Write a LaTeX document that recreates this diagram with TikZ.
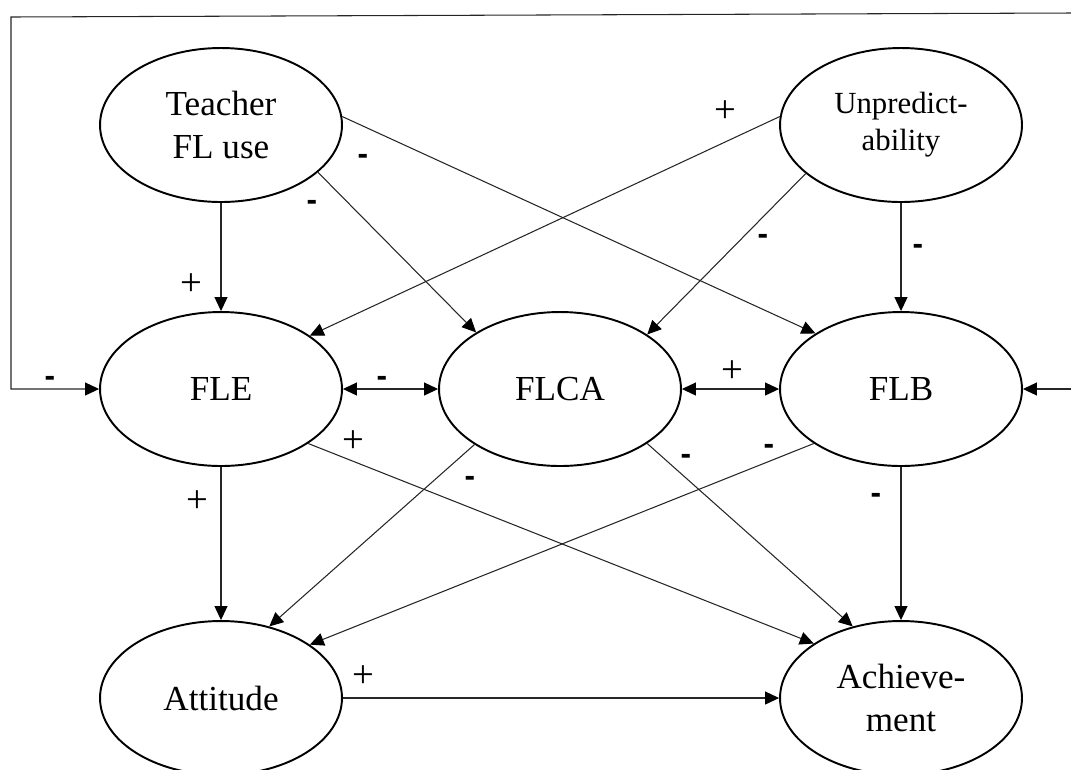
\documentclass[tikz,border=0pt]{standalone}
\usepackage{fontspec}
\setmainfont{Liberation Serif}
\newfontfamily\signfont{Liberation Sans}
\usetikzlibrary{shapes.geometric,arrows.meta}
\tikzset{
  ell/.style={ellipse, draw=black, line width=1.1pt, inner sep=0pt,
    minimum width=4.84cm, minimum height=3.08cm, align=center,
    font=\fontsize{20}{24}\selectfont},
  tip/.tip={Triangle[length=0.28cm,width=0.26cm,color=black]},
  conn/.style={draw=black!85, line width=0.6pt, -tip},
  both/.style={draw=black!85, line width=0.6pt, tip-tip},
  plus/.style={inner sep=0pt, font=\fontsize{22}{24}\selectfont},
  minus/.style={inner sep=0pt, font=\signfont\bfseries\fontsize{18}{20}\selectfont}
}
\begin{document}
\begin{tikzpicture}[x=0.02cm,y=-0.02cm]
\useasboundingbox (0,0) rectangle (1071,769);
% nodes
\node[ell] (T) at (221,125) {Teacher\\FL use};
\node[ell, font=\fontsize{17.5}{21}\selectfont] (U) at (901,125) {Unpredict-\\ability};
\node[ell] (E) at (221,389) {FLE};
\node[ell] (C) at (560,389) {FLCA};
\node[ell] (B) at (901,389) {FLB};
\node[ell] (A) at (221,698) {Attitude};
\node[ell] (H) at (901,698) {Achieve-\\ment};
% frame coordinates
\coordinate (tl) at (11,17);
\coordinate (tr) at (1071,13);
\coordinate (rr) at (1071,389);
% connectors
\draw[conn] (T.south) -- (E.north);
\draw[conn] (T.-26) -- (C.146);
\draw[conn] (T.4) -- (B.147);
\draw[conn] (U.176) -- (E.31);
\draw[conn] (U.207) -- (C.32.5);
\draw[conn] (U.south) -- (B.north);
\draw[both] (E.east) -- (C.west);
\draw[both] (C.east) -- (B.west);
\draw[conn] (E.south) -- (A.north);
\draw[conn] (E.-32) -- (H.148.5);
\draw[conn] (C.213) -- (A.56);
\draw[conn] (C.-32) -- (H.124);
\draw[conn] (B.212.5) -- (A.31);
\draw[conn] (B.south) -- (H.north);
\draw[conn] (A.east) -- (H.west);
\draw[conn] (tr) -- (tl) |- (E.west);
\draw[conn] (rr) -- (B.east);
% labels
\node[minus] (l1) at (50,381) {-};
\node[minus] (l2) at (382,381) {-};
\node[plus]  (l3) at (191,285) {+};
\node[plus]  (l4) at (197,502) {+};
\node[plus]  (l5) at (353,442) {+};
\node[plus]  (l6) at (725,112) {+};
\node[minus] (l7) at (763,239) {-};
\node[minus] (l8) at (918,249) {-};
\node[plus]  (l9) at (732,372) {+};
\node[minus] (l10) at (769,449) {-};
\node[minus] (l11) at (686,459) {-};
\node[minus] (l12) at (876,498) {-};
\node[minus] (l13) at (470,481) {-};
\node[plus]  (l14) at (363,677) {+};
\node[minus] (l15) at (363,159) {-};
\node[minus] (l16) at (312,205) {-};
\end{tikzpicture}
\end{document}
